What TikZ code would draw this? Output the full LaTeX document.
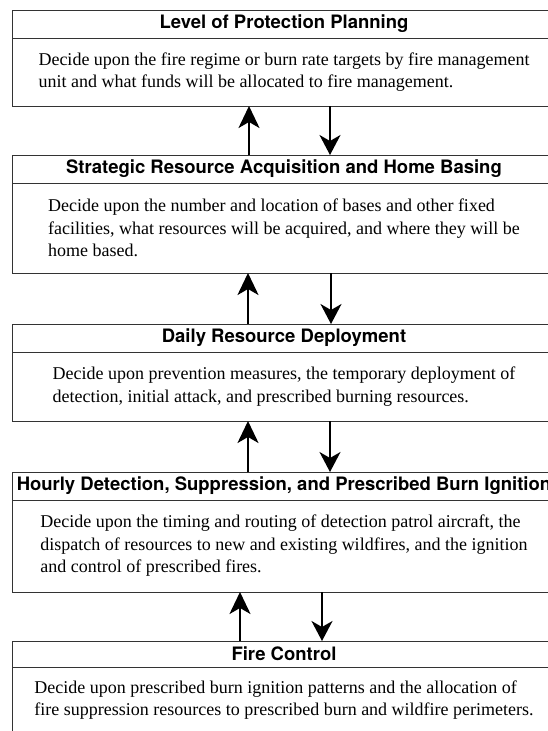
\documentclass[tikz,border=0pt]{standalone}
\usepackage{fontspec}
\setmainfont{Liberation Serif}
\newfontfamily\headfont{TeX Gyre Heros}
\usepackage{tikz}
\usetikzlibrary{positioning,arrows.meta}
\tikzset{
  head/.style={draw=black!80, line width=0.9pt, outer sep=0pt, inner sep=0pt, minimum width=544pt, minimum height=28pt, text centered, font=\headfont\bfseries\fontsize{18.5}{22}\selectfont},
  body/.style={draw=black!80, line width=0.9pt, outer sep=0pt, inner sep=0pt, minimum width=544pt, align=left, font=\fontsize{18}{22.5}\selectfont, execute at begin node=\rule{0pt}{18pt}},
  upline/.style={line width=2.2pt, -{Stealth[length=22pt,width=21pt,inset=6pt]}},
  downline/.style={line width=1.8pt, -{Stealth[length=20pt,width=21pt,inset=6pt]}}
}

\begin{document}
\begin{tikzpicture}[x=1pt, y=-1pt]
  \useasboundingbox (0,0) rectangle (548,731);
  \clip (0,0) rectangle (548,731);
  % planning levels, top to bottom
  \node[head, anchor=north west] (plan) at (12,10) {Level of Protection Planning};
  \node[body, minimum height=68pt, below=0pt of plan] (planbody) {Decide upon the fire regime or burn rate targets by fire management\\unit and what funds will be allocated to fire management.};
  \node[head, below=49pt of planbody] (strat) {Strategic Resource Acquisition and Home Basing};
  \node[body, minimum height=90pt, below=0pt of strat] (stratbody) {Decide upon the number and location of bases and other fixed\\facilities, what resources will be acquired, and where they will be\\home based.};
  \node[head, below=51pt of stratbody] (daily) {Daily Resource Deployment};
  \node[body, minimum height=69pt, below=0pt of daily] (dailybody) {Decide upon prevention measures, the temporary deployment of\\detection, initial attack, and prescribed burning resources.};
  \node[head, below=51pt of dailybody] (hourly) {Hourly Detection, Suppression, and Prescribed Burn Ignition};
  \node[body, minimum height=92pt, below=0pt of hourly] (hourlybody) {Decide upon the timing and routing of detection patrol aircraft, the\\dispatch of resources to new and existing wildfires, and the ignition\\and control of prescribed fires.};
  \node[head, minimum height=26pt, below=49pt of hourlybody] (ctrl) {Fire Control};
  \node[body, minimum height=66pt, below=0pt of ctrl] (ctrlbody) {Decide upon prescribed burn ignition patterns and the allocation of\\fire suppression resources to prescribed burn and wildfire perimeters.};
  % up and down arrows
  \draw[upline] ([xshift=237pt]strat.north west) -- ([xshift=237pt]planbody.south west);
  \draw[downline] ([xshift=318pt]planbody.south west) -- ([xshift=318pt]strat.north west);
  \draw[upline] ([xshift=236pt]daily.north west) -- ([xshift=236pt]stratbody.south west);
  \draw[downline] ([xshift=319pt]stratbody.south west) -- ([xshift=319pt]daily.north west);
  \draw[upline] ([xshift=236pt]hourly.north west) -- ([xshift=236pt]dailybody.south west);
  \draw[downline] ([xshift=318pt]dailybody.south west) -- ([xshift=318pt]hourly.north west);
  \draw[upline] ([xshift=228pt]ctrl.north west) -- ([xshift=228pt]hourlybody.south west);
  \draw[downline] ([xshift=310pt]hourlybody.south west) -- ([xshift=310pt]ctrl.north west);
\end{tikzpicture}
\end{document}
